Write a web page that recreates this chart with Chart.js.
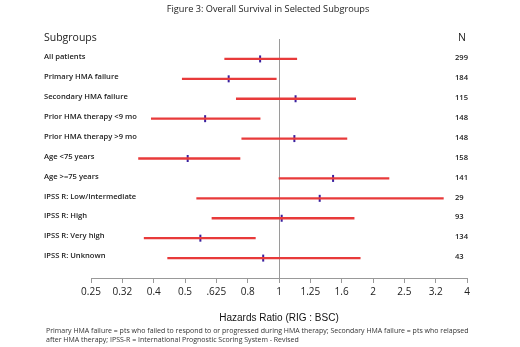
<!DOCTYPE html>
<html><head><meta charset="utf-8">
<script src="https://cdn.jsdelivr.net/npm/chart.js@4"></script>
<style>html,body{margin:0;padding:0;background:#fff}</style>
</head><body>
<canvas id="c" width="520" height="347"></canvas>
<script>
const categories = ["All patients","Primary HMA failure","Secondary HMA failure","Prior HMA therapy <9 mo","Prior HMA therapy >9 mo","Age <75 years","Age >=75 years","IPSS R: Low/Intermediate","IPSS R: High","IPSS R: Very high","IPSS R: Unknown"];
const nValues = [299,184,115,148,148,158,141,29,93,134,43];
const hazardRatio = [0.87,0.69,1.13,0.58,1.12,0.51,1.49,1.35,1.02,0.56,0.89];
const ciLow  = [0.67,0.49,0.73,0.39,0.76,0.355,1.0,0.545,0.61,0.37,0.44];
const ciHigh = [1.14,0.98,1.76,0.87,1.65,0.75,2.25,3.36,1.74,0.84,1.82];
const tickValues = [0.25,0.315,0.397,0.5,0.63,0.794,1,1.26,1.587,2,2.52,3.175,4];
const tickLabels = ["0.25","0.32","0.4","0.5",".625","0.8","1","1.25","1.6","2","2.5","3.2","4"];
const titleText = "Figure 3: Overall Survival in Selected Subgroups";
const axisTitle = "Hazards Ratio (RIG : BSC)";
const footnote = ["Primary HMA failure = pts who failed to respond to or progressed during HMA therapy; Secondary HMA failure = pts who relapsed","after HMA therapy; IPSS-R = International Prognostic Scoring System - Revised"];

const F = '"Open Sans", "Liberation Sans", sans-serif';
const forest = {
  id: 'forest',
  beforeDatasetsDraw(chart) {
    const c = chart.ctx, xs = chart.scales.x, a = chart.chartArea;
    const x = Math.round(xs.getPixelForValue(1)) + 0.5;
    c.save(); c.strokeStyle = '#9a9a9a'; c.lineWidth = 1;
    c.beginPath(); c.moveTo(x, a.top); c.lineTo(x, a.bottom); c.stroke(); c.restore();
  },
  afterDraw(chart) {
    const c = chart.ctx, ys = chart.scales.y, a = chart.chartArea;
    c.save();
    c.fillStyle = '#222'; c.textBaseline = 'middle';
    c.font = '9.2px ' + F; c.textAlign = 'center';
    c.fillText(titleText, 268, 9);
    c.font = '10.5px ' + F; c.textAlign = 'left';
    c.fillText("Subgroups", 44, 38);
    c.fillText("N", 458, 38);
    c.font = '600 7.6px ' + F;
    categories.forEach((lab, i) => {
      const y = ys.getPixelForValue(i);
      c.fillText(lab, 44, y - 2);
      c.fillText(String(nValues[i]), 455, y - 1);
    });
    c.fillStyle = '#111';
    c.font = '10px "Liberation Sans", sans-serif'; c.textAlign = 'center';
    c.fillText(axisTitle, (a.left + a.right) / 2, 318);
    c.font = '7px ' + F; c.textAlign = 'left'; c.fillStyle = '#333';
    c.fillText(footnote[0], 46, 331);
    c.fillText(footnote[1], 46, 340);
    c.restore();
  }
};

new Chart(document.getElementById('c'), {
  type: 'bar',
  data: {
    datasets: [
      {
        type: 'bar',
        data: categories.map((c, i) => ({ y: i, x: [ciLow[i], ciHigh[i]] })),
        backgroundColor: '#e83a3a', borderWidth: 0, barThickness: 1.7
      },
      {
        type: 'scatter',
        data: categories.map((c, i) => ({ y: i, x: hazardRatio[i] })),
        pointStyle: 'line', rotation: 90, radius: 3.5, borderWidth: 2,
        borderColor: '#3b1f9e', backgroundColor: '#3b1f9e'
      }
    ]
  },
  options: {
    indexAxis: 'y',
    responsive: false, animation: false, devicePixelRatio: 1,
    layout: { padding: { left: 91, right: 53, top: 39, bottom: 46 } },
    plugins: { legend: { display: false }, tooltip: { enabled: false }, title: { display: false } },
    scales: {
      x: {
        type: 'logarithmic', min: 0.25, max: 4,
        afterBuildTicks: s => { s.ticks = tickValues.map(v => ({ value: v })); },
        ticks: { callback: (v, i) => tickLabels[i], autoSkip: false, maxRotation: 0, padding: 3,
                 color: '#222', font: { family: F, size: 10 } },
        grid: { drawOnChartArea: false, tickLength: 5, color: '#999' },
        border: { color: '#999' }
      },
      y: { type: 'linear', min: -1, max: 11, reverse: true, display: false, offset: false }
    }
  },
  plugins: [forest]
});
</script>
</body></html>
